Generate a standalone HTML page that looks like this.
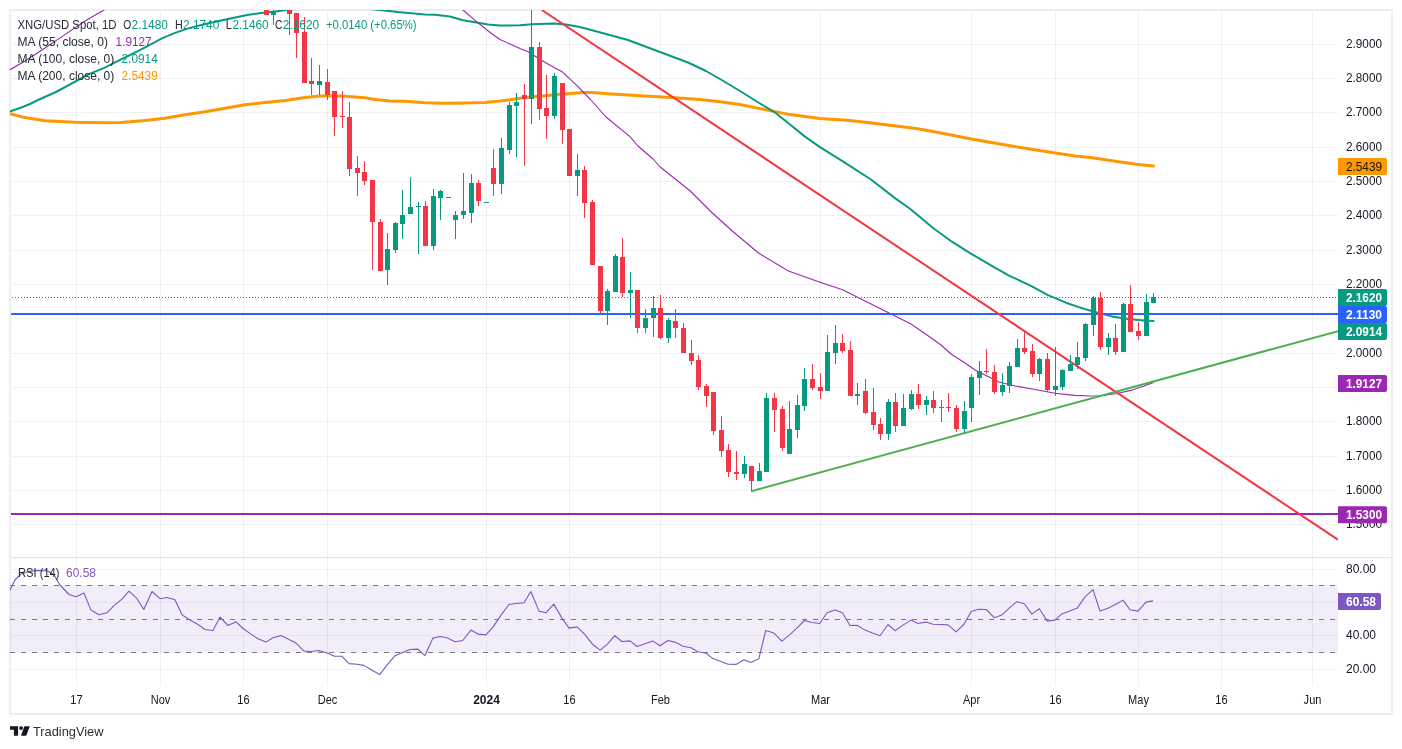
<!DOCTYPE html>
<html><head><meta charset="utf-8"><title>XNG/USD Spot</title>
<style>
html,body{margin:0;padding:0;background:#fff;}
body{width:1402px;height:749px;overflow:hidden;}
svg{display:block;will-change:transform;}
text{font-family:"Liberation Sans",sans-serif;font-size:12px;}
</style></head><body>
<svg width="1402" height="749" viewBox="0 0 1402 749" fill="#131722">
<defs>
<clipPath id="main"><rect x="10" y="10" width="1328" height="547"/></clipPath>
<clipPath id="rsi"><rect x="10" y="558" width="1328" height="128"/></clipPath>
</defs>
<rect width="1402" height="749" fill="#fff"/>
<rect x="10" y="10" width="1382" height="704" fill="none" stroke="#EDEEF3" stroke-width="2"/>
<rect x="76" y="11" width="1" height="675" fill="#2A2E39" fill-opacity="0.065"/>
<rect x="160" y="11" width="1" height="675" fill="#2A2E39" fill-opacity="0.065"/>
<rect x="243" y="11" width="1" height="675" fill="#2A2E39" fill-opacity="0.065"/>
<rect x="327" y="11" width="1" height="675" fill="#2A2E39" fill-opacity="0.065"/>
<rect x="486" y="11" width="1" height="675" fill="#2A2E39" fill-opacity="0.065"/>
<rect x="569" y="11" width="1" height="675" fill="#2A2E39" fill-opacity="0.065"/>
<rect x="660" y="11" width="1" height="675" fill="#2A2E39" fill-opacity="0.065"/>
<rect x="820" y="11" width="1" height="675" fill="#2A2E39" fill-opacity="0.065"/>
<rect x="971" y="11" width="1" height="675" fill="#2A2E39" fill-opacity="0.065"/>
<rect x="1055" y="11" width="1" height="675" fill="#2A2E39" fill-opacity="0.065"/>
<rect x="1138" y="11" width="1" height="675" fill="#2A2E39" fill-opacity="0.065"/>
<rect x="1221" y="11" width="1" height="675" fill="#2A2E39" fill-opacity="0.065"/>
<rect x="1312" y="11" width="1" height="675" fill="#2A2E39" fill-opacity="0.065"/>
<rect x="11" y="44" width="1327" height="1" fill="#2A2E39" fill-opacity="0.065"/>
<rect x="11" y="78" width="1327" height="1" fill="#2A2E39" fill-opacity="0.065"/>
<rect x="11" y="112" width="1327" height="1" fill="#2A2E39" fill-opacity="0.065"/>
<rect x="11" y="147" width="1327" height="1" fill="#2A2E39" fill-opacity="0.065"/>
<rect x="11" y="181" width="1327" height="1" fill="#2A2E39" fill-opacity="0.065"/>
<rect x="11" y="215" width="1327" height="1" fill="#2A2E39" fill-opacity="0.065"/>
<rect x="11" y="250" width="1327" height="1" fill="#2A2E39" fill-opacity="0.065"/>
<rect x="11" y="284" width="1327" height="1" fill="#2A2E39" fill-opacity="0.065"/>
<rect x="11" y="318" width="1327" height="1" fill="#2A2E39" fill-opacity="0.065"/>
<rect x="11" y="353" width="1327" height="1" fill="#2A2E39" fill-opacity="0.065"/>
<rect x="11" y="387" width="1327" height="1" fill="#2A2E39" fill-opacity="0.065"/>
<rect x="11" y="421" width="1327" height="1" fill="#2A2E39" fill-opacity="0.065"/>
<rect x="11" y="456" width="1327" height="1" fill="#2A2E39" fill-opacity="0.065"/>
<rect x="11" y="490" width="1327" height="1" fill="#2A2E39" fill-opacity="0.065"/>
<rect x="11" y="524" width="1327" height="1" fill="#2A2E39" fill-opacity="0.065"/>
<rect x="11" y="569" width="1327" height="1" fill="#2A2E39" fill-opacity="0.065"/>
<rect x="11" y="602" width="1327" height="1" fill="#2A2E39" fill-opacity="0.065"/>
<rect x="11" y="635" width="1327" height="1" fill="#2A2E39" fill-opacity="0.065"/>
<rect x="11" y="669" width="1327" height="1" fill="#2A2E39" fill-opacity="0.065"/>
<rect x="11" y="557" width="1380" height="1" fill="#E0E3EB"/>
<!-- main pane series -->
<g clip-path="url(#main)">
<path d="M5.0,112.5 L9.4,113.6 L25.0,117.6 L45.0,120.8 L75.0,122.2 L105.0,122.8 L121.0,122.6 L145.0,120.6 L165.0,118.2 L185.0,114.8 L205.0,111.8 L225.0,108.2 L245.0,104.8 L265.0,102.5 L285.0,100.5 L305.0,97.5 L320.0,96.0 L330.0,95.8 L345.0,96.3 L365.0,97.8 L375.0,99.5 L390.0,101.0 L405.0,101.3 L425.0,102.7 L445.0,103.3 L465.0,103.0 L485.0,102.4 L500.0,101.0 L510.0,99.8 L525.0,97.5 L535.0,96.5 L545.0,95.8 L560.0,94.2 L584.0,92.5 L592.0,92.5 L608.0,93.7 L640.0,95.7 L672.0,97.5 L700.0,99.5 L720.0,101.7 L740.0,104.5 L760.0,108.6 L790.0,114.6 L820.0,118.5 L850.0,120.6 L880.0,123.9 L916.0,128.4 L940.0,132.7 L970.0,138.7 L1000.0,144.1 L1030.0,148.9 L1060.0,153.7 L1075.4,156.1 L1090.4,157.6 L1120.5,162.1 L1138.5,164.5 L1153.5,166.0" fill="none" stroke="#FF9800" stroke-width="3" stroke-linejoin="round" stroke-linecap="round"/>
<path d="M5.0,113.0 L10.5,111.3 L20.0,108.0 L30.0,104.0 L38.0,100.0 L47.0,96.0 L56.0,92.0 L90.0,73.6 L104.3,67.9 L118.6,60.7 L132.9,53.6 L147.1,46.4 L161.4,38.6 L175.7,32.6 L190.0,27.9 L204.3,24.3 L218.6,21.1 L232.9,17.9 L247.1,15.0 L261.4,12.9 L275.7,11.4 L290.0,9.6 L310.0,7.5 L340.0,7.0 L365.0,8.5 L380.0,10.0 L400.0,12.2 L425.0,14.5 L435.0,14.7 L450.0,16.5 L463.0,20.2 L478.0,22.8 L488.0,24.5 L500.0,25.5 L520.0,25.3 L532.0,24.3 L554.0,23.6 L566.0,24.4 L580.0,27.0 L606.0,34.0 L628.0,40.0 L660.0,52.0 L688.0,62.5 L706.0,71.0 L720.0,79.0 L740.0,91.0 L760.0,103.5 L775.0,112.5 L790.0,124.5 L805.0,136.6 L820.0,147.1 L844.0,162.1 L871.0,179.5 L895.0,198.1 L910.0,208.7 L934.0,228.8 L952.0,241.7 L970.0,253.1 L994.0,267.2 L1009.0,275.6 L1030.0,285.3 L1048.0,295.2 L1066.0,302.7 L1078.0,306.9 L1093.0,311.5 L1112.0,316.4 L1128.0,319.0 L1144.0,320.5 L1153.5,321.1" fill="none" stroke="#089981" stroke-width="2" stroke-linejoin="round" stroke-linecap="round"/>
<path d="M5.0,74.0 L9.4,70.1 L25.0,61.0 L45.0,48.0 L65.0,34.6 L85.0,21.0 L105.0,9.4 L125.0,0.0 L445.0,-6.0 L463.0,10.0 L478.0,22.8 L490.0,32.5 L500.0,39.5 L520.0,48.5 L528.0,51.7 L546.0,63.0 L562.0,71.7 L577.0,85.7 L590.0,99.0 L606.0,117.0 L630.0,136.6 L638.0,146.0 L653.0,159.0 L660.2,167.0 L690.3,191.0 L712.3,213.0 L732.3,231.0 L758.4,253.0 L780.0,266.0 L788.5,271.1 L820.0,282.2 L842.6,289.7 L859.0,298.0 L889.0,313.0 L911.0,324.0 L927.0,335.0 L941.0,345.0 L951.0,354.0 L965.0,363.0 L975.0,370.0 L987.0,376.0 L999.0,382.0 L1015.0,386.0 L1035.0,389.5 L1055.0,393.2 L1075.0,395.4 L1090.0,396.0 L1100.0,395.7 L1116.0,393.7 L1132.0,390.1 L1144.0,386.1 L1153.5,382.5" fill="none" stroke="#9C27B0" stroke-width="1.1" stroke-linejoin="round"/>
<rect x="11" y="313" width="1327" height="2" fill="#2962FF"/>
<rect x="11" y="513" width="1327" height="2" fill="#9C27B0"/>
<line x1="541.8" y1="10" x2="1337.9" y2="539.6" stroke="#F23645" stroke-width="2"/>
<line x1="751.1" y1="491.2" x2="1338.2" y2="331.1" stroke="#4CAF50" stroke-width="2"/>
<rect x="264" y="5" width="5" height="10" fill="#F23645"/>
<rect x="273" y="5" width="1" height="20" fill="#089981"/>
<rect x="271" y="11" width="5" height="4" fill="#089981"/>
<rect x="289" y="5" width="1" height="30" fill="#F23645"/>
<rect x="287" y="5" width="5" height="9" fill="#F23645"/>
<rect x="296" y="13" width="1" height="45" fill="#F23645"/>
<rect x="294" y="13" width="5" height="20" fill="#F23645"/>
<rect x="304" y="17" width="1" height="66" fill="#F23645"/>
<rect x="302" y="32" width="5" height="51" fill="#F23645"/>
<rect x="311" y="58" width="1" height="37" fill="#F23645"/>
<rect x="309" y="81" width="5" height="3" fill="#F23645"/>
<rect x="319" y="65" width="1" height="30" fill="#089981"/>
<rect x="317" y="81" width="5" height="4" fill="#089981"/>
<rect x="327" y="69" width="1" height="31" fill="#F23645"/>
<rect x="325" y="82" width="5" height="13" fill="#F23645"/>
<rect x="334" y="91" width="1" height="45" fill="#F23645"/>
<rect x="332" y="91" width="5" height="26" fill="#F23645"/>
<rect x="342" y="91" width="1" height="37" fill="#F23645"/>
<rect x="340" y="116" width="5" height="1" fill="#F23645"/>
<rect x="349" y="102" width="1" height="74" fill="#F23645"/>
<rect x="347" y="117" width="5" height="52" fill="#F23645"/>
<rect x="357" y="156" width="1" height="40" fill="#F23645"/>
<rect x="355" y="168" width="5" height="5" fill="#F23645"/>
<rect x="364" y="161" width="1" height="24" fill="#F23645"/>
<rect x="362" y="172" width="5" height="9" fill="#F23645"/>
<rect x="372" y="180" width="1" height="90" fill="#F23645"/>
<rect x="370" y="180" width="5" height="42" fill="#F23645"/>
<rect x="380" y="219" width="1" height="52" fill="#F23645"/>
<rect x="378" y="222" width="5" height="49" fill="#F23645"/>
<rect x="387" y="233" width="1" height="52" fill="#089981"/>
<rect x="385" y="249" width="5" height="21" fill="#089981"/>
<rect x="395" y="222" width="1" height="31" fill="#089981"/>
<rect x="393" y="223" width="5" height="27" fill="#089981"/>
<rect x="402" y="190" width="1" height="49" fill="#089981"/>
<rect x="400" y="215" width="5" height="9" fill="#089981"/>
<rect x="410" y="177" width="1" height="37" fill="#089981"/>
<rect x="408" y="207" width="5" height="7" fill="#089981"/>
<rect x="418" y="202" width="1" height="52" fill="#089981"/>
<rect x="416" y="206" width="5" height="1" fill="#089981"/>
<rect x="425" y="201" width="1" height="45" fill="#F23645"/>
<rect x="423" y="206" width="5" height="40" fill="#F23645"/>
<rect x="433" y="189" width="1" height="61" fill="#089981"/>
<rect x="431" y="196" width="5" height="50" fill="#089981"/>
<rect x="440" y="190" width="1" height="30" fill="#089981"/>
<rect x="438" y="191" width="5" height="7" fill="#089981"/>
<rect x="446" y="197" width="5" height="1" fill="#089981"/>
<rect x="455" y="211" width="1" height="28" fill="#089981"/>
<rect x="453" y="215" width="5" height="5" fill="#089981"/>
<rect x="463" y="173" width="1" height="46" fill="#089981"/>
<rect x="461" y="211" width="5" height="4" fill="#089981"/>
<rect x="471" y="174" width="1" height="49" fill="#089981"/>
<rect x="469" y="183" width="5" height="30" fill="#089981"/>
<rect x="478" y="180" width="1" height="26" fill="#F23645"/>
<rect x="476" y="183" width="5" height="18" fill="#F23645"/>
<rect x="484" y="202" width="5" height="1" fill="#089981"/>
<rect x="493" y="149" width="1" height="47" fill="#F23645"/>
<rect x="491" y="168" width="5" height="16" fill="#F23645"/>
<rect x="501" y="138" width="1" height="56" fill="#089981"/>
<rect x="499" y="148" width="5" height="36" fill="#089981"/>
<rect x="509" y="102" width="1" height="52" fill="#089981"/>
<rect x="507" y="105" width="5" height="45" fill="#089981"/>
<rect x="516" y="93" width="1" height="64" fill="#089981"/>
<rect x="514" y="102" width="5" height="4" fill="#089981"/>
<rect x="524" y="84" width="1" height="82" fill="#F23645"/>
<rect x="522" y="95" width="5" height="4" fill="#F23645"/>
<rect x="531" y="5" width="1" height="119" fill="#089981"/>
<rect x="529" y="47" width="5" height="52" fill="#089981"/>
<rect x="539" y="42" width="1" height="78" fill="#F23645"/>
<rect x="537" y="47" width="5" height="62" fill="#F23645"/>
<rect x="546" y="75" width="1" height="64" fill="#F23645"/>
<rect x="544" y="108" width="5" height="8" fill="#F23645"/>
<rect x="554" y="73" width="1" height="46" fill="#089981"/>
<rect x="552" y="76" width="5" height="40" fill="#089981"/>
<rect x="562" y="83" width="1" height="61" fill="#F23645"/>
<rect x="560" y="83" width="5" height="47" fill="#F23645"/>
<rect x="567" y="129" width="5" height="47" fill="#F23645"/>
<rect x="577" y="154" width="1" height="42" fill="#089981"/>
<rect x="575" y="170" width="5" height="6" fill="#089981"/>
<rect x="584" y="166" width="1" height="52" fill="#F23645"/>
<rect x="582" y="170" width="5" height="33" fill="#F23645"/>
<rect x="592" y="200" width="1" height="65" fill="#F23645"/>
<rect x="590" y="202" width="5" height="63" fill="#F23645"/>
<rect x="600" y="266" width="1" height="47" fill="#F23645"/>
<rect x="598" y="266" width="5" height="45" fill="#F23645"/>
<rect x="607" y="289" width="1" height="36" fill="#089981"/>
<rect x="605" y="291" width="5" height="20" fill="#089981"/>
<rect x="615" y="254" width="1" height="38" fill="#089981"/>
<rect x="613" y="256" width="5" height="36" fill="#089981"/>
<rect x="622" y="238" width="1" height="59" fill="#F23645"/>
<rect x="620" y="257" width="5" height="36" fill="#F23645"/>
<rect x="630" y="272" width="1" height="46" fill="#089981"/>
<rect x="628" y="290" width="5" height="3" fill="#089981"/>
<rect x="637" y="290" width="1" height="43" fill="#F23645"/>
<rect x="635" y="290" width="5" height="38" fill="#F23645"/>
<rect x="645" y="309" width="1" height="24" fill="#089981"/>
<rect x="643" y="318" width="5" height="10" fill="#089981"/>
<rect x="653" y="296" width="1" height="41" fill="#089981"/>
<rect x="651" y="308" width="5" height="10" fill="#089981"/>
<rect x="660" y="295" width="1" height="44" fill="#F23645"/>
<rect x="658" y="308" width="5" height="30" fill="#F23645"/>
<rect x="668" y="318" width="1" height="25" fill="#089981"/>
<rect x="666" y="320" width="5" height="18" fill="#089981"/>
<rect x="675" y="309" width="1" height="29" fill="#F23645"/>
<rect x="673" y="321" width="5" height="7" fill="#F23645"/>
<rect x="683" y="323" width="1" height="30" fill="#F23645"/>
<rect x="681" y="328" width="5" height="25" fill="#F23645"/>
<rect x="691" y="340" width="1" height="25" fill="#F23645"/>
<rect x="689" y="353" width="5" height="8" fill="#F23645"/>
<rect x="698" y="355" width="1" height="35" fill="#F23645"/>
<rect x="696" y="360" width="5" height="27" fill="#F23645"/>
<rect x="706" y="384" width="1" height="23" fill="#F23645"/>
<rect x="704" y="386" width="5" height="10" fill="#F23645"/>
<rect x="713" y="392" width="1" height="43" fill="#F23645"/>
<rect x="711" y="392" width="5" height="39" fill="#F23645"/>
<rect x="721" y="416" width="1" height="41" fill="#F23645"/>
<rect x="719" y="430" width="5" height="21" fill="#F23645"/>
<rect x="728" y="444" width="1" height="33" fill="#F23645"/>
<rect x="726" y="450" width="5" height="22" fill="#F23645"/>
<rect x="736" y="451" width="1" height="29" fill="#F23645"/>
<rect x="734" y="472" width="5" height="2" fill="#F23645"/>
<rect x="744" y="456" width="1" height="22" fill="#089981"/>
<rect x="742" y="464" width="5" height="10" fill="#089981"/>
<rect x="751" y="466" width="1" height="25" fill="#F23645"/>
<rect x="749" y="466" width="5" height="15" fill="#F23645"/>
<rect x="759" y="463" width="1" height="18" fill="#089981"/>
<rect x="757" y="471" width="5" height="10" fill="#089981"/>
<rect x="766" y="393" width="1" height="79" fill="#089981"/>
<rect x="764" y="398" width="5" height="74" fill="#089981"/>
<rect x="774" y="393" width="1" height="39" fill="#F23645"/>
<rect x="772" y="398" width="5" height="12" fill="#F23645"/>
<rect x="782" y="406" width="1" height="45" fill="#F23645"/>
<rect x="780" y="409" width="5" height="39" fill="#F23645"/>
<rect x="789" y="401" width="1" height="53" fill="#089981"/>
<rect x="787" y="429" width="5" height="25" fill="#089981"/>
<rect x="797" y="395" width="1" height="43" fill="#089981"/>
<rect x="795" y="405" width="5" height="25" fill="#089981"/>
<rect x="804" y="368" width="1" height="43" fill="#089981"/>
<rect x="802" y="379" width="5" height="27" fill="#089981"/>
<rect x="812" y="364" width="1" height="26" fill="#F23645"/>
<rect x="810" y="379" width="5" height="9" fill="#F23645"/>
<rect x="820" y="373" width="1" height="26" fill="#F23645"/>
<rect x="818" y="387" width="5" height="4" fill="#F23645"/>
<rect x="827" y="335" width="1" height="56" fill="#089981"/>
<rect x="825" y="352" width="5" height="39" fill="#089981"/>
<rect x="835" y="325" width="1" height="39" fill="#089981"/>
<rect x="833" y="343" width="5" height="10" fill="#089981"/>
<rect x="842" y="334" width="1" height="19" fill="#F23645"/>
<rect x="840" y="343" width="5" height="8" fill="#F23645"/>
<rect x="850" y="341" width="1" height="55" fill="#F23645"/>
<rect x="848" y="350" width="5" height="46" fill="#F23645"/>
<rect x="857" y="383" width="1" height="22" fill="#089981"/>
<rect x="855" y="394" width="5" height="2" fill="#089981"/>
<rect x="865" y="379" width="1" height="35" fill="#F23645"/>
<rect x="863" y="391" width="5" height="22" fill="#F23645"/>
<rect x="873" y="388" width="1" height="42" fill="#F23645"/>
<rect x="871" y="412" width="5" height="13" fill="#F23645"/>
<rect x="880" y="418" width="1" height="22" fill="#F23645"/>
<rect x="878" y="424" width="5" height="10" fill="#F23645"/>
<rect x="888" y="399" width="1" height="41" fill="#089981"/>
<rect x="886" y="402" width="5" height="32" fill="#089981"/>
<rect x="895" y="393" width="1" height="39" fill="#F23645"/>
<rect x="893" y="402" width="5" height="24" fill="#F23645"/>
<rect x="903" y="394" width="1" height="32" fill="#089981"/>
<rect x="901" y="408" width="5" height="18" fill="#089981"/>
<rect x="911" y="390" width="1" height="20" fill="#089981"/>
<rect x="909" y="394" width="5" height="15" fill="#089981"/>
<rect x="918" y="384" width="1" height="25" fill="#F23645"/>
<rect x="916" y="394" width="5" height="11" fill="#F23645"/>
<rect x="926" y="396" width="1" height="19" fill="#089981"/>
<rect x="924" y="400" width="5" height="5" fill="#089981"/>
<rect x="933" y="391" width="1" height="22" fill="#F23645"/>
<rect x="931" y="400" width="5" height="8" fill="#F23645"/>
<rect x="941" y="400" width="1" height="22" fill="#F23645"/>
<rect x="939" y="407" width="5" height="1" fill="#F23645"/>
<rect x="948" y="393" width="1" height="19" fill="#F23645"/>
<rect x="946" y="407" width="5" height="1" fill="#F23645"/>
<rect x="956" y="405" width="1" height="27" fill="#F23645"/>
<rect x="954" y="408" width="5" height="21" fill="#F23645"/>
<rect x="964" y="401" width="1" height="32" fill="#089981"/>
<rect x="962" y="411" width="5" height="18" fill="#089981"/>
<rect x="971" y="374" width="1" height="48" fill="#089981"/>
<rect x="969" y="377" width="5" height="31" fill="#089981"/>
<rect x="979" y="361" width="1" height="34" fill="#089981"/>
<rect x="977" y="371" width="5" height="7" fill="#089981"/>
<rect x="986" y="349" width="1" height="25" fill="#F23645"/>
<rect x="984" y="371" width="5" height="1" fill="#F23645"/>
<rect x="994" y="365" width="1" height="29" fill="#F23645"/>
<rect x="992" y="372" width="5" height="20" fill="#F23645"/>
<rect x="1002" y="373" width="1" height="23" fill="#089981"/>
<rect x="1000" y="385" width="5" height="7" fill="#089981"/>
<rect x="1009" y="362" width="1" height="31" fill="#089981"/>
<rect x="1007" y="366" width="5" height="20" fill="#089981"/>
<rect x="1017" y="339" width="1" height="28" fill="#089981"/>
<rect x="1015" y="348" width="5" height="19" fill="#089981"/>
<rect x="1024" y="332" width="1" height="22" fill="#F23645"/>
<rect x="1022" y="348" width="5" height="4" fill="#F23645"/>
<rect x="1032" y="344" width="1" height="33" fill="#F23645"/>
<rect x="1030" y="351" width="5" height="23" fill="#F23645"/>
<rect x="1039" y="358" width="1" height="23" fill="#089981"/>
<rect x="1037" y="359" width="5" height="15" fill="#089981"/>
<rect x="1047" y="353" width="1" height="39" fill="#F23645"/>
<rect x="1045" y="359" width="5" height="31" fill="#F23645"/>
<rect x="1055" y="347" width="1" height="49" fill="#089981"/>
<rect x="1053" y="386" width="5" height="4" fill="#089981"/>
<rect x="1062" y="369" width="1" height="21" fill="#089981"/>
<rect x="1060" y="370" width="5" height="17" fill="#089981"/>
<rect x="1070" y="355" width="1" height="16" fill="#089981"/>
<rect x="1068" y="364" width="5" height="7" fill="#089981"/>
<rect x="1077" y="342" width="1" height="27" fill="#089981"/>
<rect x="1075" y="357" width="5" height="8" fill="#089981"/>
<rect x="1085" y="323" width="1" height="38" fill="#089981"/>
<rect x="1083" y="324" width="5" height="34" fill="#089981"/>
<rect x="1093" y="296" width="1" height="40" fill="#089981"/>
<rect x="1091" y="298" width="5" height="27" fill="#089981"/>
<rect x="1100" y="292" width="1" height="58" fill="#F23645"/>
<rect x="1098" y="298" width="5" height="49" fill="#F23645"/>
<rect x="1108" y="333" width="1" height="22" fill="#089981"/>
<rect x="1106" y="338" width="5" height="9" fill="#089981"/>
<rect x="1115" y="324" width="1" height="31" fill="#F23645"/>
<rect x="1113" y="338" width="5" height="14" fill="#F23645"/>
<rect x="1123" y="303" width="1" height="49" fill="#089981"/>
<rect x="1121" y="304" width="5" height="48" fill="#089981"/>
<rect x="1130" y="285" width="1" height="47" fill="#F23645"/>
<rect x="1128" y="304" width="5" height="28" fill="#F23645"/>
<rect x="1138" y="322" width="1" height="18" fill="#F23645"/>
<rect x="1136" y="331" width="5" height="5" fill="#F23645"/>
<rect x="1146" y="294" width="1" height="42" fill="#089981"/>
<rect x="1144" y="302" width="5" height="34" fill="#089981"/>
<rect x="1153" y="293" width="1" height="10" fill="#089981"/>
<rect x="1151" y="297" width="5" height="6" fill="#089981"/>
<line x1="12" y1="297.5" x2="1338" y2="297.5" stroke="#089981" stroke-width="1" stroke-dasharray="1 2"/>
</g>
<!-- RSI pane -->
<g clip-path="url(#rsi)">
<rect x="10" y="585" width="1328" height="68" fill="#7E57C2" fill-opacity="0.1"/>
<line x1="10" y1="585.5" x2="1338" y2="585.5" stroke="#787B86" stroke-width="1" stroke-dasharray="5 6"/>
<line x1="10" y1="619.5" x2="1338" y2="619.5" stroke="#787B86" stroke-width="1" stroke-dasharray="5 6"/>
<line x1="10" y1="652.5" x2="1338" y2="652.5" stroke="#787B86" stroke-width="1" stroke-dasharray="5 6"/>
<path d="M5.0,598.0 L10.0,590.1 L15.0,580.0 L21.0,574.0 L29.0,571.4 L39.0,570.4 L48.0,571.0 L54.0,575.0 L60.0,585.0 L69.0,594.5 L76.0,596.7 L84.0,593.1 L91.0,610.1 L99.0,614.7 L107.0,612.7 L114.0,605.7 L122.0,599.1 L129.0,591.1 L137.0,598.7 L143.8,609.5 L152.0,591.5 L160.0,598.7 L167.0,597.5 L175.0,599.7 L182.0,614.7 L190.0,620.1 L198.0,624.5 L205.0,629.5 L213.0,630.5 L220.0,617.1 L228.0,625.5 L236.0,621.7 L243.0,628.5 L251.0,634.1 L258.0,638.7 L266.0,642.1 L273.0,637.7 L281.0,635.6 L288.0,639.1 L296.0,643.1 L304.0,651.1 L311.0,651.5 L319.0,650.5 L327.0,653.1 L334.0,656.1 L342.0,656.3 L349.0,663.6 L357.0,664.2 L364.0,665.4 L372.0,670.2 L379.7,674.6 L387.0,665.2 L395.0,655.7 L402.0,652.7 L410.0,649.5 L418.0,649.1 L424.8,655.7 L433.0,638.1 L440.0,636.5 L447.0,637.7 L455.0,641.7 L462.7,640.5 L470.9,630.1 L478.0,634.1 L485.9,634.9 L493.0,627.1 L501.0,615.1 L509.0,604.5 L516.0,603.5 L524.0,602.7 L530.8,591.5 L539.0,611.1 L546.0,612.7 L553.8,604.1 L562.0,618.1 L569.0,628.1 L577.0,626.9 L584.6,634.1 L592.0,643.7 L600.0,650.1 L607.5,644.1 L614.7,635.7 L622.0,641.5 L630.0,640.9 L637.0,646.5 L645.0,643.7 L652.7,640.9 L660.0,645.7 L668.0,640.5 L675.0,642.1 L683.0,646.3 L691.0,647.7 L698.0,651.7 L706.0,653.3 L713.0,658.6 L721.0,661.4 L728.0,664.2 L736.0,664.4 L743.9,659.8 L750.9,662.4 L758.9,658.6 L765.7,630.5 L773.9,633.1 L781.9,641.1 L789.3,635.1 L796.9,628.1 L804.4,620.5 L812.0,622.5 L819.8,623.5 L827.0,612.7 L835.0,610.1 L842.4,612.7 L850.0,625.5 L857.0,625.3 L865.0,630.1 L872.5,633.1 L880.0,635.7 L888.0,624.5 L895.0,630.7 L903.0,625.1 L911.0,620.1 L918.0,623.5 L926.0,622.1 L933.0,624.3 L941.0,624.5 L948.0,624.9 L956.0,631.9 L963.8,624.5 L971.2,611.5 L978.6,609.3 L986.2,609.5 L994.2,617.7 L1001.8,615.1 L1009.2,608.1 L1016.9,601.7 L1024.3,603.7 L1031.9,614.1 L1039.3,608.7 L1047.3,621.1 L1054.7,620.1 L1062.3,613.7 L1069.7,610.9 L1077.3,608.1 L1084.8,597.1 L1093.0,589.7 L1100.0,611.1 L1107.4,608.5 L1115.5,604.5 L1123.0,600.1 L1130.0,609.7 L1138.0,611.1 L1146.0,602.1 L1153.0,600.9" fill="none" stroke="#7E57C2" stroke-width="1.1" stroke-linejoin="round"/>
</g>
<!-- legend -->
<g fill="#262A35">
<text x="17.5" y="28.5" textLength="99" lengthAdjust="spacingAndGlyphs">XNG/USD Spot, 1D</text>
<text x="123.3" y="28.5" textLength="8" lengthAdjust="spacingAndGlyphs">O</text>
<text x="131.6" y="28.5" fill="#089981" textLength="36.3" lengthAdjust="spacingAndGlyphs">2.1480</text>
<text x="175" y="28.5" textLength="7.8" lengthAdjust="spacingAndGlyphs">H</text>
<text x="183" y="28.5" fill="#089981" textLength="36.3" lengthAdjust="spacingAndGlyphs">2.1740</text>
<text x="225.8" y="28.5" textLength="6.2" lengthAdjust="spacingAndGlyphs">L</text>
<text x="232.4" y="28.5" fill="#089981" textLength="36.3" lengthAdjust="spacingAndGlyphs">2.1460</text>
<text x="275.1" y="28.5" textLength="7.4" lengthAdjust="spacingAndGlyphs">C</text>
<text x="282.8" y="28.5" fill="#089981" textLength="36.3" lengthAdjust="spacingAndGlyphs">2.1620</text>
<text x="326" y="28.5" fill="#089981" textLength="90.5" lengthAdjust="spacingAndGlyphs">+0.0140 (+0.65%)</text>
<text x="17.5" y="45.6" textLength="90.5" lengthAdjust="spacingAndGlyphs">MA (55, close, 0)</text>
<text x="115.6" y="45.6" fill="#9C27B0" textLength="36" lengthAdjust="spacingAndGlyphs">1.9127</text>
<text x="17.5" y="62.6" textLength="96.8" lengthAdjust="spacingAndGlyphs">MA (100, close, 0)</text>
<text x="121.5" y="62.6" fill="#089981" textLength="36.3" lengthAdjust="spacingAndGlyphs">2.0914</text>
<text x="17.5" y="79.7" textLength="96.8" lengthAdjust="spacingAndGlyphs">MA (200, close, 0)</text>
<text x="121.5" y="79.7" fill="#FF9800" textLength="36.3" lengthAdjust="spacingAndGlyphs">2.5439</text>
<text x="18" y="576.6" textLength="41.5" lengthAdjust="spacingAndGlyphs">RSI (14)</text>
<text x="66" y="576.6" fill="#7E57C2" textLength="30" lengthAdjust="spacingAndGlyphs">60.58</text>
</g>
<!-- axes -->
<g>
<text x="1346" y="47.9" textLength="36" lengthAdjust="spacingAndGlyphs">2.9000</text>
<text x="1346" y="81.9" textLength="36" lengthAdjust="spacingAndGlyphs">2.8000</text>
<text x="1346" y="115.9" textLength="36" lengthAdjust="spacingAndGlyphs">2.7000</text>
<text x="1346" y="150.9" textLength="36" lengthAdjust="spacingAndGlyphs">2.6000</text>
<text x="1346" y="184.9" textLength="36" lengthAdjust="spacingAndGlyphs">2.5000</text>
<text x="1346" y="218.9" textLength="36" lengthAdjust="spacingAndGlyphs">2.4000</text>
<text x="1346" y="253.9" textLength="36" lengthAdjust="spacingAndGlyphs">2.3000</text>
<text x="1346" y="287.9" textLength="36" lengthAdjust="spacingAndGlyphs">2.2000</text>
<text x="1346" y="356.9" textLength="36" lengthAdjust="spacingAndGlyphs">2.0000</text>
<text x="1346" y="424.9" textLength="36" lengthAdjust="spacingAndGlyphs">1.8000</text>
<text x="1346" y="459.9" textLength="36" lengthAdjust="spacingAndGlyphs">1.7000</text>
<text x="1346" y="493.9" textLength="36" lengthAdjust="spacingAndGlyphs">1.6000</text>
<text x="1346" y="527.9" textLength="36" lengthAdjust="spacingAndGlyphs">1.5000</text>
<text x="1346" y="572.8" textLength="30" lengthAdjust="spacingAndGlyphs">80.00</text>
<text x="1346" y="639.3" textLength="30" lengthAdjust="spacingAndGlyphs">40.00</text>
<text x="1346" y="672.8" textLength="30" lengthAdjust="spacingAndGlyphs">20.00</text>
<path d="M1338,158 h47 a2,2 0 0 1 2,2 v13 a2,2 0 0 1 -2,2 h-47 z" fill="#FF9800"/><text x="1346" y="170.6" fill="#131722" textLength="36" lengthAdjust="spacingAndGlyphs">2.5439</text>
<path d="M1338,289 h47 a2,2 0 0 1 2,2 v13 a2,2 0 0 1 -2,2 h-47 z" fill="#089981"/><text x="1346" y="301.6" fill="#fff" font-weight="bold" textLength="36" lengthAdjust="spacingAndGlyphs">2.1620</text>
<path d="M1338,306 h47 a2,2 0 0 1 2,2 v13 a2,2 0 0 1 -2,2 h-47 z" fill="#2962FF"/><text x="1346" y="318.6" fill="#fff" font-weight="bold" textLength="36" lengthAdjust="spacingAndGlyphs">2.1130</text>
<path d="M1338,323 h47 a2,2 0 0 1 2,2 v13 a2,2 0 0 1 -2,2 h-47 z" fill="#089981"/><text x="1346" y="335.6" fill="#fff" font-weight="bold" textLength="36" lengthAdjust="spacingAndGlyphs">2.0914</text>
<path d="M1338,375 h47 a2,2 0 0 1 2,2 v13 a2,2 0 0 1 -2,2 h-47 z" fill="#9C27B0"/><text x="1346" y="387.6" fill="#fff" font-weight="bold" textLength="36" lengthAdjust="spacingAndGlyphs">1.9127</text>
<path d="M1338,506.2 h47 a2,2 0 0 1 2,2 v13 a2,2 0 0 1 -2,2 h-47 z" fill="#9C27B0"/><text x="1346" y="518.8" fill="#fff" font-weight="bold" textLength="36" lengthAdjust="spacingAndGlyphs">1.5300</text>
<path d="M1338,593 h41 a2,2 0 0 1 2,2 v13 a2,2 0 0 1 -2,2 h-41 z" fill="#7E57C2"/><text x="1346" y="605.6" fill="#fff" font-weight="bold" textLength="30" lengthAdjust="spacingAndGlyphs">60.58</text>
<text transform="translate(76.5,703.8) scale(0.92,1)" text-anchor="middle">17</text>
<text transform="translate(160.5,703.8) scale(0.92,1)" text-anchor="middle">Nov</text>
<text transform="translate(243.5,703.8) scale(0.92,1)" text-anchor="middle">16</text>
<text transform="translate(327.5,703.8) scale(0.92,1)" text-anchor="middle">Dec</text>
<text transform="translate(486.5,703.8) scale(1.0,1)" text-anchor="middle" font-weight="bold">2024</text>
<text transform="translate(569.5,703.8) scale(0.92,1)" text-anchor="middle">16</text>
<text transform="translate(660.5,703.8) scale(0.92,1)" text-anchor="middle">Feb</text>
<text transform="translate(820.5,703.8) scale(0.92,1)" text-anchor="middle">Mar</text>
<text transform="translate(971.5,703.8) scale(0.92,1)" text-anchor="middle">Apr</text>
<text transform="translate(1055.5,703.8) scale(0.92,1)" text-anchor="middle">16</text>
<text transform="translate(1138.5,703.8) scale(0.92,1)" text-anchor="middle">May</text>
<text transform="translate(1221.5,703.8) scale(0.92,1)" text-anchor="middle">16</text>
<text transform="translate(1312.5,703.8) scale(0.92,1)" text-anchor="middle">Jun</text>
</g>
<!-- logo -->
<g fill="#131722">
<path d="M10,726.2 h8.1 v9.6 h-4.2 v-6 h-3.9 z"/>
<circle cx="21.1" cy="728.1" r="1.9"/>
<path d="M24.4,726.2 h5.4 l-3.6,9.6 h-5.2 z"/>
</g>
<text x="33" y="735.8" style="font-size:13px" fill="#2A2E39" textLength="70.5" lengthAdjust="spacingAndGlyphs">TradingView</text>
</svg>
</body></html>
